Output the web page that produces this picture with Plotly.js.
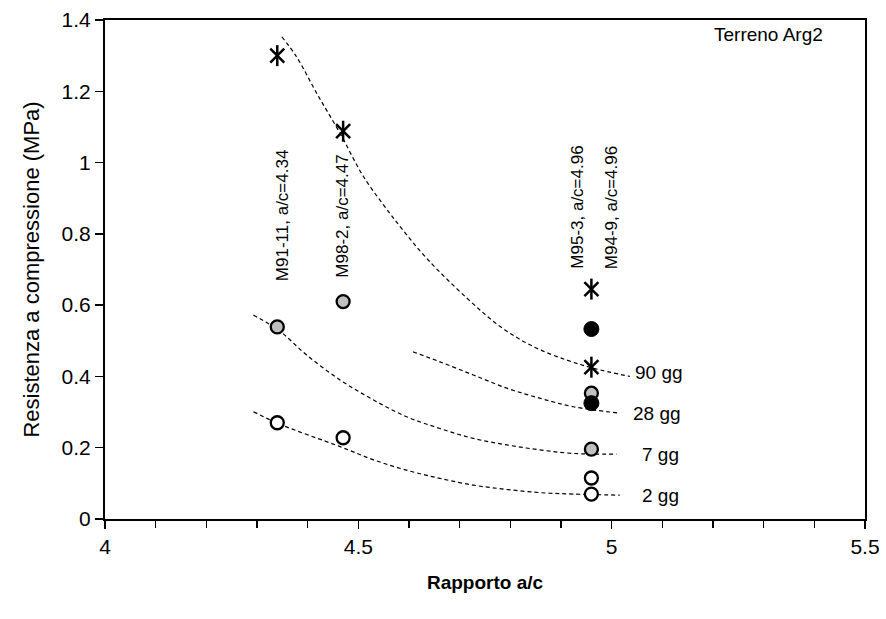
<!DOCTYPE html>
<html>
<head>
<meta charset="utf-8">
<script src="https://cdn.plot.ly/plotly-3.0.1.min.js"></script>
<style>
html,body{margin:0;padding:0;background:#fff;}
#chart{width:886px;height:619px;}
</style>
</head>
<body>
<div id="chart"></div>
<script>
// ---- data ----
var xOpen = [4.34, 4.47, 4.96, 4.96];          // 2 gg
var yOpen = [0.27, 0.228, 0.115, 0.07];
var xGray = [4.34, 4.47, 4.96, 4.96];          // 7 gg
var yGray = [0.539, 0.61, 0.353, 0.196];
var xBlack = [4.96, 4.96];                     // 28 gg
var yBlack = [0.533, 0.325];
var xStar = [4.34, 4.47, 4.96, 4.96];          // 90 gg
var yStar = [1.30, 1.088, 0.645, 0.426];

// trend curves
var x90 = [4.349, 4.378, 4.418, 4.464, 4.510, 4.562, 4.585, 4.635, 4.714, 4.780, 4.845, 4.911, 4.964, 5.036];
var y90 = [1.353, 1.297, 1.194, 1.082, 0.961, 0.858, 0.816, 0.731, 0.620, 0.540, 0.484, 0.446, 0.423, 0.400];
var x28 = [4.608, 4.661, 4.727, 4.793, 4.858, 4.924, 5.016];
var y28 = [0.469, 0.441, 0.404, 0.367, 0.339, 0.315, 0.297];
var x7 = [4.293, 4.345, 4.398, 4.464, 4.530, 4.595, 4.661, 4.727, 4.793, 4.858, 4.924, 5.010];
var y7 = [0.572, 0.527, 0.460, 0.390, 0.334, 0.287, 0.254, 0.226, 0.208, 0.194, 0.184, 0.182];
var x2 = [4.293, 4.345, 4.464, 4.530, 4.595, 4.661, 4.727, 4.793, 4.858, 4.924, 5.016];
var y2 = [0.301, 0.266, 0.203, 0.166, 0.137, 0.114, 0.095, 0.083, 0.074, 0.070, 0.067];

var curveLabels = ["90 gg", "28 gg", "7 gg", "2 gg"];
var curveLabelX = [5.093, 5.089, 5.097, 5.097];
var curveLabelY = [0.41, 0.297, 0.182, 0.067];

var mixLabels = ["M91-11, a/c=4.34", "M98-2, a/c=4.47", "M95-3, a/c=4.96", "M94-9, a/c=4.96"];
var mixLabelX = [4.349, 4.467, 4.932, 5.0];
var mixLabelY = [0.852, 0.850, 0.874, 0.874];

var xTickVals = [4, 4.5, 5, 5.5];
var yTickVals = [0, 0.2, 0.4, 0.6, 0.8, 1, 1.2, 1.4];

var dashLine = {color: '#000', width: 1.2, dash: '4px,3px', shape: 'spline'};
var traces = [
  {x: x90, y: y90, mode: 'lines', line: dashLine, hoverinfo: 'skip'},
  {x: x28, y: y28, mode: 'lines', line: dashLine, hoverinfo: 'skip'},
  {x: x7, y: y7, mode: 'lines', line: dashLine, hoverinfo: 'skip'},
  {x: x2, y: y2, mode: 'lines', line: dashLine, hoverinfo: 'skip'},
  {x: xOpen, y: yOpen, mode: 'markers', marker: {symbol: 'circle', size: 13, color: '#fff', line: {color: '#000', width: 2.3}}},
  {x: xGray, y: yGray, mode: 'markers', marker: {symbol: 'circle', size: 13, color: '#c0c0c0', line: {color: '#000', width: 2.3}}},
  {x: xBlack, y: yBlack, mode: 'markers', marker: {symbol: 'circle', size: 15, color: '#000', line: {color: '#000', width: 1}}},
  {x: xStar, y: yStar, mode: 'markers', marker: {symbol: 'x-thin-open', size: 14, color: '#000', line: {color: '#000', width: 2.5}}},
  {x: xStar, y: yStar, mode: 'markers', marker: {symbol: 'line-ns-open', size: 15, color: '#000', line: {color: '#000', width: 2.5}}}
];

var annotations = [];
for (var i = 0; i < curveLabels.length; i++) {
  annotations.push({x: curveLabelX[i], y: curveLabelY[i], xref: 'x', yref: 'y', text: curveLabels[i],
    showarrow: false, xanchor: 'center', yanchor: 'middle',
    font: {family: 'Liberation Sans Narrow, Arial Narrow, Liberation Sans, sans-serif', size: 19, color: '#000'}});
}
for (var j = 0; j < mixLabels.length; j++) {
  annotations.push({x: mixLabelX[j], y: mixLabelY[j], xref: 'x', yref: 'y', text: mixLabels[j],
    showarrow: false, textangle: -90, xanchor: 'center', yanchor: 'middle',
    font: {family: 'Liberation Sans, Arial, sans-serif', size: 17, color: '#000'}});
}
annotations.push({x: 0.948, y: 0.995, xref: 'paper', yref: 'paper', text: 'Terreno Arg2', showarrow: false,
  xanchor: 'right', yanchor: 'top', font: {family: 'Liberation Sans, Arial, sans-serif', size: 19, color: '#000'}});

var layout = {
  width: 886, height: 619,
  margin: {l: 105, r: 21, t: 20, b: 100},
  paper_bgcolor: '#fff', plot_bgcolor: '#fff',
  showlegend: false,
  font: {family: 'Liberation Sans, Arial, sans-serif', color: '#000'},
  xaxis: {
    range: [4, 5.5], tickvals: xTickVals, ticktext: xTickVals.map(String),
    showgrid: false, zeroline: false, showline: true, mirror: true, linecolor: '#000', linewidth: 2,
    ticks: 'outside', ticklen: 8, tickwidth: 1.5, tickcolor: '#000',
    minor: {dtick: 0.1, ticks: 'outside', ticklen: 7, tickwidth: 1.5, tickcolor: '#000', showgrid: false},
    tickfont: {family: 'Liberation Sans Narrow, Arial Narrow, Liberation Sans, sans-serif', size: 21},
    title: {text: 'Rapporto a/c', standoff: 18, font: {family: 'Liberation Sans Narrow, Arial Narrow, Liberation Sans, sans-serif', size: 19, weight: 'bold'}}
  },
  yaxis: {
    range: [0, 1.4], tickvals: yTickVals,
    showgrid: false, zeroline: false, showline: true, mirror: true, linecolor: '#000', linewidth: 2,
    ticks: 'outside', ticklen: 8, tickwidth: 1.5, tickcolor: '#000',
    tickfont: {family: 'Liberation Sans, Arial, sans-serif', size: 21},
    title: {text: 'Resistenza a compressione (MPa)', standoff: 16, font: {family: 'Liberation Sans, Arial, sans-serif', size: 22}}
  },
  annotations: annotations
};

Plotly.newPlot('chart', traces, layout, {staticPlot: true, displayModeBar: false});
</script>
</body>
</html>
